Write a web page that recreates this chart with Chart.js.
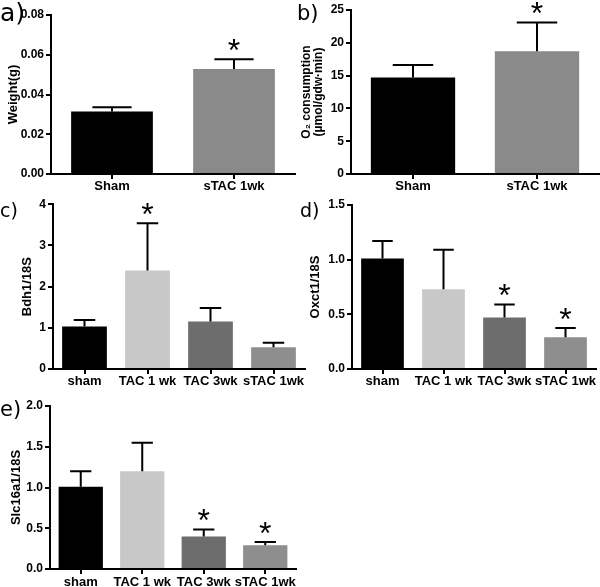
<!DOCTYPE html>
<html>
<head>
<meta charset="utf-8">
<script src="https://cdn.jsdelivr.net/npm/chart.js@4.4.1/dist/chart.umd.min.js"></script>
<style>
body{margin:0;background:#fff;width:600px;height:587px;position:relative;overflow:hidden}
canvas{position:absolute}
.lab{position:absolute;font-family:"DejaVu Sans";line-height:1;color:#000}
</style>
</head>
<body>
<canvas id="pa" width="300" height="195" style="left:0;top:0"></canvas>
<canvas id="pb" width="300" height="195" style="left:300px;top:0"></canvas>
<canvas id="pc" width="312" height="195" style="left:0;top:195px"></canvas>
<canvas id="pd" width="300" height="195" style="left:300px;top:195px"></canvas>
<canvas id="pe" width="300" height="197" style="left:0;top:390px"></canvas>
<div class="lab" style="left:0;top:0;font-size:25px">a)</div>
<div class="lab" style="left:297px;top:3px;font-size:21px">b)</div>
<div class="lab" style="left:0;top:201px;font-size:19px">c)</div>
<div class="lab" style="left:300px;top:201px;font-size:19px">d)</div>
<div class="lab" style="left:0;top:399px;font-size:21px">e)</div>
<script>
// ---------------- data

var twoGroups = ['Sham', 'sTAC 1wk']
var fourGroups = ['sham', 'TAC 1 wk', 'TAC 3wk', 'sTAC 1wk']

var weightMean = [0.0315, 0.0528]
var weightErr = [0.0021, 0.0049]
var weightStar = [false, true]

var o2Mean = [14.7, 18.7]
var o2Err = [1.9, 4.4]
var o2Star = [false, true]

var bdh1Mean = [1.03, 2.39, 1.15, 0.53]
var bdh1Err = [0.16, 1.15, 0.33, 0.11]
var bdh1Star = [false, true, false, false]

var oxct1Mean = [1.01, 0.73, 0.47, 0.29]
var oxct1Err = [0.16, 0.36, 0.12, 0.085]
var oxct1Star = [false, false, true, true]

var slcMean = [1.01, 1.20, 0.40, 0.29]
var slcErr = [0.19, 0.35, 0.085, 0.04]
var slcStar = [false, false, true, true]

var twoColors = ['#000000', '#8a8a8a']
var fourColors = ['#000000', '#c8c8c8', '#6d6d6d', '#8e8e8e']

Chart.defaults.font.family = '"Liberation Sans", Arial, sans-serif'
Chart.defaults.color = '#000'

// upward error bars + significance stars
var errorBars = {
    id: 'errorBars',
    afterDatasetsDraw: (chart, args, opts) => {
        let ctx = chart.ctx
        let y = chart.scales.y
        let meta = chart.getDatasetMeta(0)
        ctx.save()
        ctx.strokeStyle = '#000'
        ctx.lineWidth = 2
        meta.data.forEach((bar, i) => {
            let v = chart.data.datasets[0].data[i]
            let top = y.getPixelForValue(v + opts.err[i])
            let cap = bar.width * 0.24
            ctx.beginPath()
            ctx.moveTo(bar.x, bar.y)
            ctx.lineTo(bar.x, top)
            ctx.moveTo(bar.x - cap, top)
            ctx.lineTo(bar.x + cap, top)
            ctx.stroke()
            if(opts.star[i]){
                ctx.font = '32px "Liberation Sans"'
                ctx.fillStyle = '#000'
                ctx.textAlign = 'center'
                ctx.textBaseline = 'alphabetic'
                let m = ctx.measureText('*')
                let mid = (m.actualBoundingBoxAscent - m.actualBoundingBoxDescent) / 2
                ctx.fillText('*', bar.x, top - 14 + mid)
            }
        })
        ctx.restore()
    }
}

function makePanel(id, labels, mean, err, star, colors, o){
    return new Chart(document.getElementById(id), {
        type: 'bar',
        data: {
            labels: labels,
            datasets: [{
                data: mean,
                backgroundColor: colors,
                borderWidth: 0,
                barPercentage: o.barPct,
                categoryPercentage: 1
            }]
        },
        options: {
            responsive: false,
            animation: false,
            events: [],
            layout: {padding: {top: o.padTop, right: o.padRight, left: 0, bottom: 0}},
            plugins: {
                legend: {display: false},
                tooltip: {enabled: false},
                errorBars: {err: err, star: star}
            },
            scales: {
                x: {
                    afterFit: s => { s.height = o.xh },
                    grid: {offset: false, drawOnChartArea: false, tickLength: 5, color: '#000', lineWidth: 2},
                    border: {color: '#000', width: 2},
                    ticks: {font: {size: 13, weight: 'bold'}, padding: o.xpad, maxRotation: 0, autoSkip: false}
                },
                y: {
                    min: 0,
                    max: o.max,
                    afterFit: s => { s.width = o.yw },
                    grid: {drawOnChartArea: false, tickLength: 5, color: '#000', lineWidth: 2},
                    border: {color: '#000', width: 2},
                    ticks: {
                        stepSize: o.step,
                        padding: 2,
                        font: {size: 12, weight: 'bold'},
                        callback: v => v.toFixed(o.dec)
                    },
                    title: {
                        display: true,
                        text: o.title,
                        font: {size: o.tsize || 13, weight: 'bold', lineHeight: o.tlh || 1.2},
                        padding: {top: o.tpad, bottom: 0}
                    }
                }
            }
        },
        plugins: [errorBars]
    })
}

makePanel('pa', twoGroups, weightMean, weightErr, weightStar, twoColors,
    {max: 0.08, step: 0.02, dec: 2, title: 'Weight(g)', yw: 51, xh: 21, padTop: 15, padRight: 5, barPct: 0.67, xpad: 0, tpad: 6})

makePanel('pb', twoGroups, o2Mean, o2Err, o2Star, twoColors,
    {max: 25, step: 5, dec: 0, title: ['O\u2082 consumption', '(\u00b5mol/gdw\u00b7min)'], tsize: 12, tlh: 1.0,
     yw: 51, xh: 21, padTop: 10, padRight: 1, barPct: 0.68, xpad: 0, tpad: 1})

makePanel('pc', fourGroups, bdh1Mean, bdh1Err, bdh1Star, fourColors,
    {max: 4, step: 1, dec: 0, title: 'Bdh1/18S', yw: 53, xh: 21, padTop: 6, padRight: 7, barPct: 0.71, xpad: 0, tpad: 20})

makePanel('pd', fourGroups, oxct1Mean, oxct1Err, oxct1Star, fourColors,
    {max: 1.5, step: 0.5, dec: 1, title: 'Oxct1/18S', yw: 52, xh: 21, padTop: 10, padRight: 4, barPct: 0.7, xpad: 0, tpad: 8})

makePanel('pe', fourGroups, slcMean, slcErr, slcStar, fourColors,
    {max: 2, step: 0.5, dec: 1, title: 'Slc16a1/18S', yw: 50, xh: 18, padTop: 16, padRight: 4, barPct: 0.72, xpad: 1, tpad: 9})
</script>
</body>
</html>
